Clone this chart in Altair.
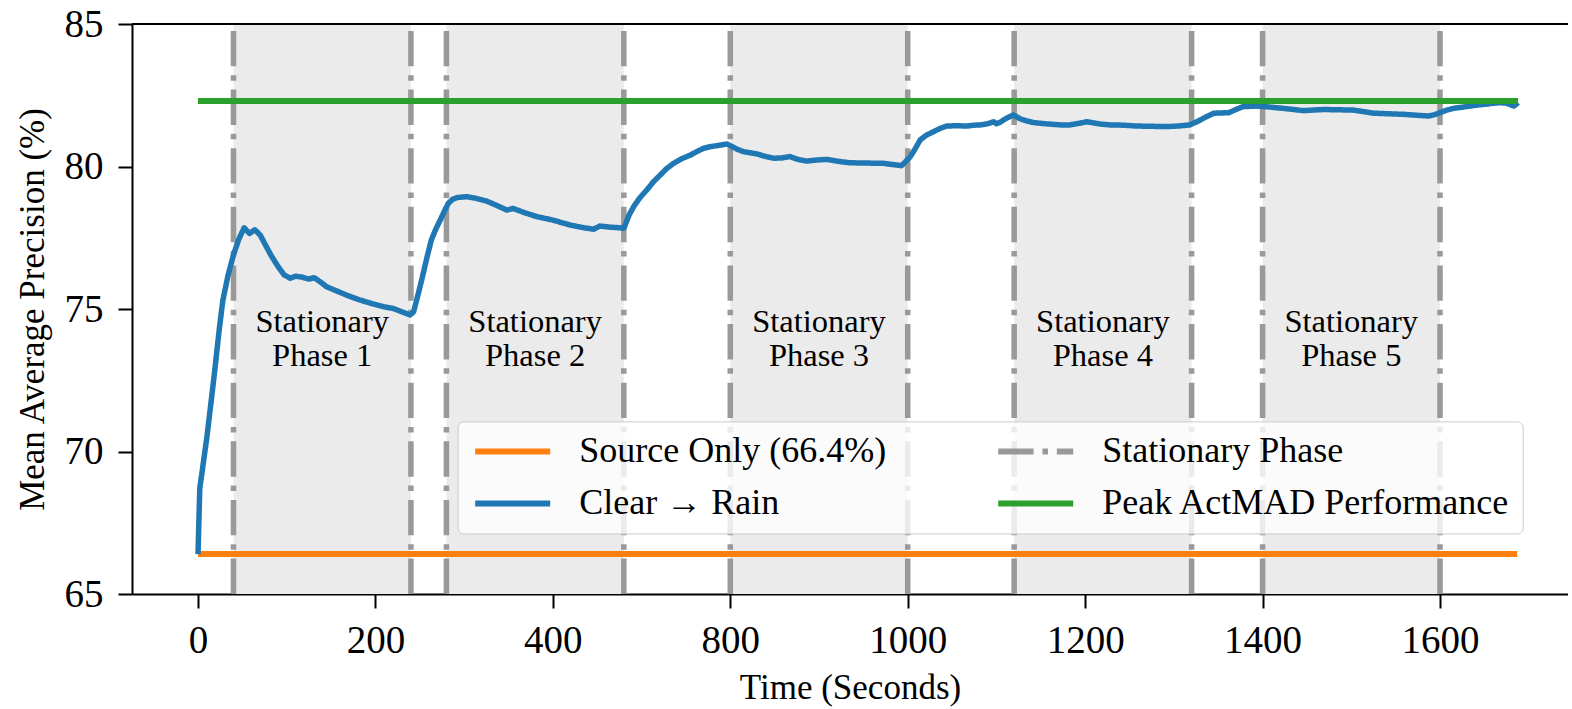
import json
import altair as alt
import pandas as pd

# ---------------- data ----------------
time_s = [0, 2, 10, 18, 24, 28, 34, 40, 46, 52, 58, 64, 70, 76, 82, 90, 97, 104, 110, 117,
          125, 131, 138, 145, 155, 168, 182, 195, 209, 220, 230, 239, 243, 248, 252, 258,
          263, 268, 273, 278, 282, 287, 292, 303, 314, 325, 337, 348, 355, 368, 382, 400,
          419, 435, 446, 453, 465, 476, 480, 486, 491, 498, 506, 513, 521, 528, 536, 545,
          555, 562, 570, 578, 585, 596, 602, 608, 615, 630, 640, 649, 658, 667, 676, 686,
          698, 709, 722, 735, 755, 773, 785, 793, 797, 803, 808, 814, 821, 829, 836, 844,
          855, 867, 875, 882, 890, 897, 900, 904, 908, 913, 919, 927, 934, 942, 955, 972,
          983, 994, 1002, 1017, 1028, 1043, 1058, 1075, 1092, 1105, 1118, 1126, 1135, 1145,
          1154, 1162, 1170, 1178, 1193, 1203, 1213, 1223, 1235, 1246, 1257, 1269, 1285,
          1302, 1313, 1325, 1342, 1359, 1373, 1387, 1394, 1400, 1407, 1415, 1425, 1434,
          1443, 1453, 1460, 1468, 1475, 1480, 1483, 1486, 1488]
map_clear_rain = [66.4, 68.7, 70.5, 72.6, 74.3, 75.3, 76.2, 76.9, 77.45, 77.85, 77.65, 77.78,
                  77.6, 77.25, 76.9, 76.5, 76.2, 76.08, 76.15, 76.12, 76.05, 76.1, 75.95, 75.78,
                  75.65, 75.48, 75.32, 75.2, 75.08, 75.02, 74.9, 74.79, 74.9, 75.5, 76.0, 76.8,
                  77.42, 77.8, 78.12, 78.45, 78.7, 78.85, 78.91, 78.94, 78.88, 78.79, 78.63,
                  78.47, 78.53, 78.38, 78.24, 78.12, 77.95, 77.85, 77.8, 77.91, 77.87, 77.85,
                  77.83, 78.3, 78.59, 78.9, 79.18, 79.45, 79.7, 79.92, 80.11, 80.27, 80.4,
                  80.52, 80.64, 80.7, 80.73, 80.79, 80.7, 80.6, 80.52, 80.44, 80.35, 80.29,
                  80.3, 80.35, 80.25, 80.19, 80.23, 80.25, 80.18, 80.13, 80.12, 80.11, 80.06,
                  80.03, 80.15, 80.35, 80.6, 80.93, 81.1, 81.22, 81.33, 81.42, 81.43, 81.42,
                  81.45, 81.46, 81.5, 81.57, 81.5, 81.55, 81.63, 81.72, 81.81, 81.67, 81.6,
                  81.54, 81.5, 81.46, 81.46, 81.52, 81.57, 81.49, 81.46, 81.45, 81.42, 81.41,
                  81.4, 81.42, 81.46, 81.57, 81.72, 81.87, 81.88, 81.89, 82.0, 82.1, 82.12,
                  82.1, 82.07, 82.04, 82.0, 81.96, 81.98, 82.0, 81.99, 81.98, 81.93, 81.87,
                  81.85, 81.83, 81.8, 81.77, 81.82, 81.89, 81.97, 82.04, 82.08, 82.12, 82.16,
                  82.19, 82.22, 82.24, 82.22, 82.16, 82.12, 82.18, 82.24]
source_only_map = 66.4
peak_actmad_map = 82.3
run_start_s = 0
run_end_s = 1488

phase_start_s = [40, 280, 600, 920, 1200]
phase_end_s = [240, 480, 800, 1120, 1400]
phase_line1 = ["Stationary"] * 5
phase_line2 = ["Phase 1", "Phase 2", "Phase 3", "Phase 4", "Phase 5"]

x_tick_values = [0, 200, 400, 600, 800, 1000, 1200, 1400]
x_tick_labels = ["0", "200", "400", "800", "1000", "1200", "1400", "1600"]
y_tick_values = [65, 70, 75, 80, 85]

# legend entries (filled column by column: Source, Clear | Stationary, Peak)
legend_names = ["Source Only (66.4%)", "Clear \u2192 Rain", "Stationary Phase",
                "Peak ActMAD Performance"]
legend_colors = ["#ff7f0e", "#1f77b4", "#999999", "#2ca02c"]
legend_dashes = [[1, 0], [1, 0], [35.4, 8.85, 5.53, 8.85], [1, 0]]

# ---------------- layout ----------------
W, H = 1436, 570
FONT = "Liberation Serif"
px_per_unit = (1440 - 198) / 1400.0
x_lo = -74.4
x_hi = x_lo + W / px_per_unit

xs = alt.Scale(domain=[x_lo, x_hi], nice=False, zero=False)
ys = alt.Scale(domain=[65, 85], nice=False, zero=False)

legend = alt.Legend(
    title=None, orient="none", legendX=325.7, legendY=397.4, columns=2,
    symbolType="M-1,0H5", symbolSize=625, symbolStrokeWidth=6,
    labelFont=FONT, labelFontSize=36, labelColor="black", labelLimit=1000,
    labelOffset=73.6, columnPadding=99, rowPadding=16, padding=12,
    fillColor="rgba(255,255,255,0.8)", strokeColor="#cccccc", cornerRadius=6,
)
color = alt.Color("series:N", scale=alt.Scale(domain=legend_names, range=legend_colors),
                  legend=legend)
dash = alt.StrokeDash("series:N", scale=alt.Scale(domain=legend_names, range=legend_dashes),
                      legend=legend)

x_axis = alt.Axis(
    title="Time (Seconds)", values=x_tick_values,
    labelExpr=f"{json.dumps(x_tick_labels)}[round(datum.value/200)]",
    labelFont=FONT, labelFontSize=39, labelColor="black", labelPadding=13,
    tickSize=14, tickWidth=2, tickColor="black", domainColor="black", domainWidth=2,
    titleFont=FONT, titleFontSize=35, titleFontWeight="normal", titleColor="black",
    titleBaseline="alphabetic", titleY=104, grid=False,
)
y_axis = alt.Axis(
    title="Mean Average Precision (%)", values=y_tick_values,
    labelFont=FONT, labelFontSize=39, labelColor="black", labelPadding=15,
    tickSize=14, tickWidth=2, tickColor="black", domainColor="black", domainWidth=2,
    titleFont=FONT, titleFontSize=35, titleFontWeight="normal", titleColor="black",
    titleBaseline="alphabetic", titleX=-89, titleY=H / 2, grid=False,
)

phases = pd.DataFrame({"start": phase_start_s, "end": phase_end_s,
                       "mid": [(a + b) / 2 for a, b in zip(phase_start_s, phase_end_s)],
                       "line1": phase_line1, "line2": phase_line2})
bounds = pd.DataFrame({"t": phase_start_s + phase_end_s, "series": legend_names[2]})
curve = pd.DataFrame({"t": time_s, "v": map_clear_rain, "series": legend_names[1]})
hlines = pd.DataFrame({"t0": [run_start_s, run_start_s], "t1": [run_end_s - 1, run_end_s],
                       "v": [source_only_map, peak_actmad_map],
                       "series": [legend_names[0], legend_names[3]]})

shade = alt.Chart(phases).mark_rect(color="#ebebeb").encode(
    x=alt.X("start:Q", scale=xs, axis=x_axis), x2="end:Q",
    y=alt.value(0), y2=alt.value(H))

vrules = alt.Chart(bounds).mark_rule(strokeWidth=5.53).encode(
    x=alt.X("t:Q", scale=xs), y=alt.datum(65, scale=ys, axis=y_axis), y2=alt.datum(85),
    color=color, strokeDash=dash)

src = alt.Chart(hlines).transform_filter(alt.datum.series == legend_names[0]).mark_rule(
    strokeWidth=6).encode(x=alt.X("t0:Q", scale=xs), x2="t1:Q", y=alt.Y("v:Q", scale=ys),
                          color=color, strokeDash=dash)

line = alt.Chart(curve).mark_line(strokeWidth=5.5, strokeJoin="round").encode(
    x=alt.X("t:Q", scale=xs), y=alt.Y("v:Q", scale=ys), color=color, strokeDash=dash)

peak = alt.Chart(hlines).transform_filter(alt.datum.series == legend_names[3]).mark_rule(
    strokeWidth=6).encode(x=alt.X("t0:Q", scale=xs), x2="t1:Q", y=alt.Y("v:Q", scale=ys),
                          color=color, strokeDash=dash)

txt1 = alt.Chart(phases).mark_text(font=FONT, fontSize=32.5, color="black",
                                   baseline="alphabetic", align="center").encode(
    x=alt.X("mid:Q", scale=xs), y=alt.datum(74.18), text="line1:N")
txt2 = alt.Chart(phases).mark_text(font=FONT, fontSize=32.5, color="black",
                                   baseline="alphabetic", align="center").encode(
    x=alt.X("mid:Q", scale=xs), y=alt.datum(73.01), text="line2:N")

top_spine = alt.Chart(phases).mark_rule(color="black", strokeWidth=2).encode(
    x=alt.value(0), x2=alt.value(W), y=alt.value(0))

chart = alt.layer(shade, vrules, src, line, peak, txt1, txt2, top_spine).properties(
    width=W, height=H,
    autosize=alt.AutoSizeParams(type="none"),
    padding={"left": 132, "top": 24, "right": 0, "bottom": 113},
    background="white",
).configure_view(stroke=None)

chart.save("out.html", embed_options={"renderer": "svg", "actions": False})
